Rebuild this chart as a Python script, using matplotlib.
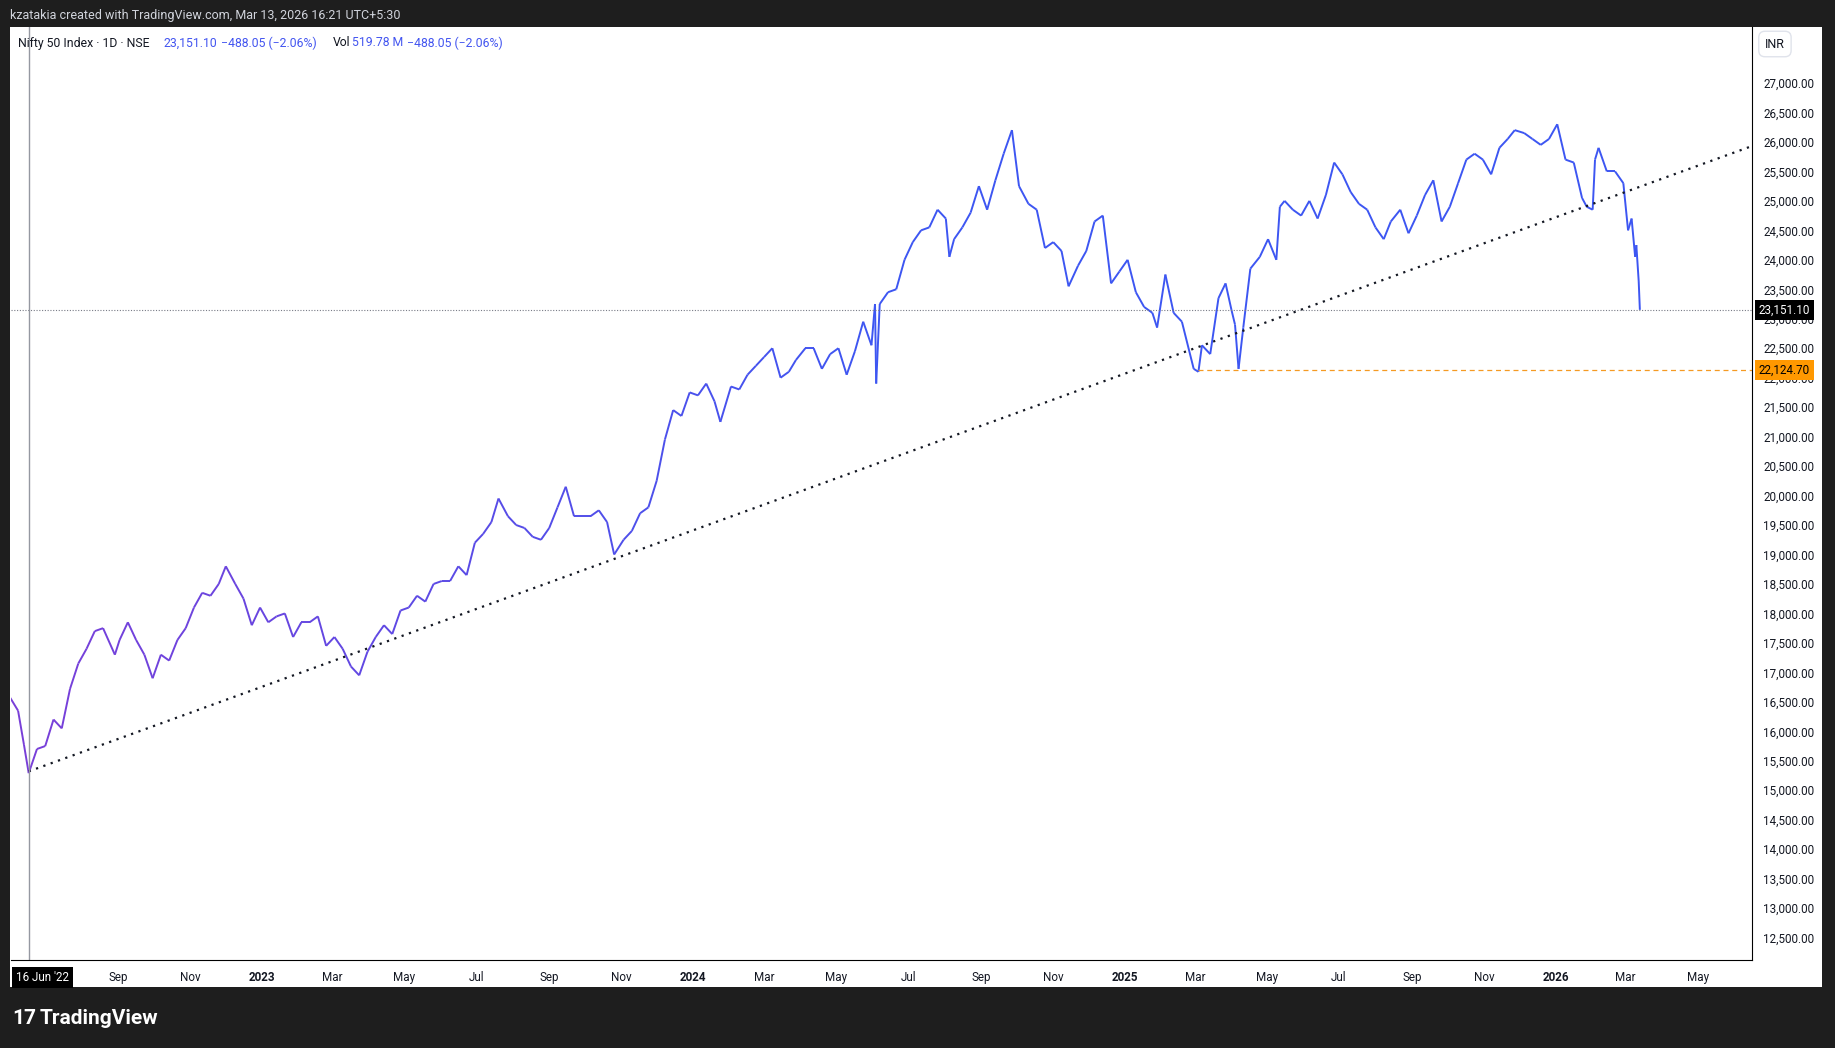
import matplotlib
matplotlib.use("Agg")
import matplotlib.pyplot as plt
import matplotlib.dates as mdates
import numpy as np
import pandas as pd
from matplotlib.collections import LineCollection
from matplotlib.colors import to_rgb
import matplotlib.transforms as mtrans

plt.rcParams['font.family'] = ['Roboto', 'DejaVu Sans']

dates = [
"2022-06-01","2022-06-08","2022-06-13","2022-06-17","2022-06-24","2022-07-01","2022-07-08","2022-07-15","2022-07-22","2022-07-29",
"2022-08-05","2022-08-12","2022-08-19","2022-08-29","2022-09-02","2022-09-09","2022-09-16","2022-09-23","2022-09-30","2022-10-07",
"2022-10-14","2022-10-21","2022-10-28","2022-11-04","2022-11-11","2022-11-18","2022-11-25","2022-12-01","2022-12-09","2022-12-16",
"2022-12-23","2022-12-30",
"2023-01-06","2023-01-13","2023-01-20","2023-01-27","2023-02-03","2023-02-10","2023-02-17","2023-02-24","2023-03-03","2023-03-10",
"2023-03-17","2023-03-24","2023-03-31","2023-04-07","2023-04-14","2023-04-21","2023-04-28","2023-05-05","2023-05-12","2023-05-19",
"2023-05-26","2023-06-02","2023-06-09","2023-06-16","2023-06-23","2023-06-30","2023-07-07","2023-07-14","2023-07-20","2023-07-28",
"2023-08-04","2023-08-11","2023-08-18","2023-08-25","2023-09-01","2023-09-08","2023-09-15","2023-09-22","2023-09-29","2023-10-06",
"2023-10-13","2023-10-20","2023-10-26","2023-11-03","2023-11-10","2023-11-17","2023-11-24","2023-12-01","2023-12-08","2023-12-15",
"2023-12-22","2023-12-29",
"2024-01-05","2024-01-12","2024-01-19","2024-01-24","2024-02-02","2024-02-09","2024-02-16","2024-02-23","2024-03-01","2024-03-08",
"2024-03-15","2024-03-22","2024-03-28","2024-04-05","2024-04-12","2024-04-19","2024-04-26","2024-05-03","2024-05-10","2024-05-17",
"2024-05-24","2024-05-31","2024-06-03","2024-06-04","2024-06-07","2024-06-14","2024-06-21","2024-06-28","2024-07-05","2024-07-12",
"2024-07-19","2024-07-26","2024-08-02","2024-08-05","2024-08-09","2024-08-16","2024-08-23","2024-08-30","2024-09-06","2024-09-13",
"2024-09-20","2024-09-27","2024-10-03","2024-10-11","2024-10-18","2024-10-25","2024-11-01","2024-11-08","2024-11-14","2024-11-22",
"2024-11-29","2024-12-06","2024-12-13","2024-12-20","2024-12-27",
"2025-01-03","2025-01-10","2025-01-17","2025-01-24","2025-01-28","2025-02-04","2025-02-11","2025-02-18","2025-02-28","2025-03-04",
"2025-03-07","2025-03-14","2025-03-21","2025-03-27","2025-04-01","2025-04-04","2025-04-07","2025-04-11","2025-04-17","2025-04-25",
"2025-05-02","2025-05-09","2025-05-12","2025-05-16","2025-05-23","2025-05-30","2025-06-06","2025-06-13","2025-06-20","2025-06-27",
"2025-07-04","2025-07-11","2025-07-18","2025-07-25","2025-08-01","2025-08-08","2025-08-14","2025-08-22","2025-08-29","2025-09-05",
"2025-09-12","2025-09-19","2025-09-26","2025-10-03","2025-10-10","2025-10-17","2025-10-24","2025-10-31","2025-11-07","2025-11-14",
"2025-11-21","2025-11-27","2025-12-05","2025-12-12","2025-12-19","2025-12-26",
"2026-01-02","2026-01-09","2026-01-16","2026-01-23","2026-01-27","2026-02-01","2026-02-03","2026-02-06","2026-02-13","2026-02-20",
"2026-02-27","2026-03-03","2026-03-06","2026-03-09","2026-03-10","2026-03-12","2026-03-13"]
closes = [
16580,16350,15770,15290,15700,15750,16200,16050,16720,17150,
17400,17700,17750,17300,17550,17850,17550,17300,16900,17300,
17200,17550,17750,18100,18350,18300,18500,18800,18500,18250,
17800,18100,
17850,17950,18000,17600,17850,17850,17950,17450,17600,17400,
17100,16950,17350,17600,17800,17650,18050,18100,18300,18200,
18500,18550,18550,18800,18650,19200,19350,19550,19950,19650,
19500,19450,19300,19250,19450,19800,20150,19650,19650,19650,
19750,19550,19000,19250,19400,19700,19800,20250,20950,21450,
21350,21750,
21700,21900,21600,21250,21850,21800,22050,22200,22350,22500,
22000,22100,22300,22500,22500,22150,22400,22500,22050,22450,
22950,22550,23250,21900,23250,23450,23500,24000,24300,24500,
24550,24850,24700,24050,24350,24550,24800,25250,24850,25350,
25800,26200,25250,24950,24850,24200,24300,24150,23550,23900,
24150,24650,24750,23600,23800,
24000,23450,23200,23100,22850,23750,23100,22950,22150,22100,
22550,22400,23350,23600,23150,22900,22150,22850,23850,24050,
24350,24000,24900,25000,24850,24750,25000,24700,25100,25650,
25450,25150,24950,24850,24550,24350,24650,24850,24450,24750,
25100,25350,24650,24900,25300,25700,25800,25700,25450,25900,
26050,26200,26150,26050,25950,26050,
26300,25700,25650,25050,24900,24850,25700,25900,25500,25500,
25300,24500,24700,24050,24250,23640,23151.10]

trend_start = ("2022-06-17", 15320)
trend_end = ("2026-06-16", 25930)
last_price = 23151.10
support_price = 22124.70
support_from = "2025-03-04"
crosshair_date = "2022-06-17"

y_ticks = np.arange(12500, 27001, 500)
x_tick_dates = ["2022-09-01","2022-11-01","2023-01-01","2023-03-01","2023-05-01","2023-07-01","2023-09-01","2023-11-01",
                "2024-01-01","2024-03-01","2024-05-01","2024-07-01","2024-09-01","2024-11-01","2025-01-01","2025-03-01",
                "2025-05-01","2025-07-01","2025-09-01","2025-11-01","2026-01-01","2026-03-01","2026-05-01"]
x_tick_labels = ["Sep","Nov","2023","Mar","May","Jul","Sep","Nov","2024","Mar","May","Jul","Sep","Nov","2025","Mar",
                 "May","Jul","Sep","Nov","2026","Mar","May"]

W, H = 1835, 1048
fig = plt.figure(figsize=(W/100, H/100), dpi=100, facecolor='#1e1e1e')
def fr(x0, y0, x1, y1):
    return [x0/W, 1-y1/H, (x1-x0)/W, (y1-y0)/H]

bg = fig.add_axes(fr(10, 27, 1822, 987))
bg.set_facecolor('white'); bg.set_xticks([]); bg.set_yticks([])
for s in bg.spines.values(): s.set_visible(False)

ax = fig.add_axes(fr(11, 27, 1752, 960))
ax.set_facecolor('white')
x = mdates.date2num(pd.to_datetime(dates))
y = np.array(closes, float)
pts = np.column_stack([x, y]).reshape(-1, 1, 2)
segs = np.concatenate([pts[:-1], pts[1:]], axis=1)
c0, c1 = np.array(to_rgb('#7a3fd8')), np.array(to_rgb('#3d56f2'))
t = np.clip((x[:-1]-x[0])/(mdates.date2num(pd.Timestamp("2024-06-01"))-x[0]), 0, 1)[:, None]
cols = c0*(1-t)+c1*t
ax.add_collection(LineCollection(segs, colors=cols, linewidth=1.4))

xmin = mdates.date2num(pd.Timestamp("2022-06-02"))
xmax = mdates.date2num(pd.Timestamp("2026-06-16"))
ax.set_xlim(xmin, xmax)
ax.set_ylim(12120, 27950)

tx0 = mdates.date2num(pd.Timestamp(trend_start[0])); tx1 = mdates.date2num(pd.Timestamp(trend_end[0]))
ax.plot([tx0, tx1], [trend_start[1], trend_end[1]], color='#131722', lw=1.6, ls=(0, (1, 2.5)))

ax.axhline(last_price, color='#787b86', lw=0.8, ls=(0, (1, 1.5)))
ax.plot([mdates.date2num(pd.Timestamp(support_from)), xmax], [support_price]*2, color='#f59a23', lw=0.9, ls=(0, (4, 3)))
ax.axvline(mdates.date2num(pd.Timestamp(crosshair_date)), color='#9598a1', lw=1)

ax.yaxis.tick_right()
ax.set_yticks(y_ticks)
ax.set_yticklabels([f"{v:,.2f}" for v in y_ticks], fontsize=8.4, color='#131722')
ax.tick_params(axis='y', length=0, pad=8)
ax.set_xticks(mdates.date2num(pd.to_datetime(x_tick_dates)))
ax.set_xticklabels(x_tick_labels, fontsize=8.4, color='#131722')
for lab in ax.get_xticklabels():
    if lab.get_text().isdigit(): lab.set_fontweight('bold')
ax.tick_params(axis='x', length=0, pad=8)
for k in ['top', 'left']: ax.spines[k].set_visible(False)
ax.spines['right'].set_color('black'); ax.spines['bottom'].set_color('black')

bt = mtrans.blended_transform_factory(ax.transAxes, ax.transData)
ax.text(1.004, last_price, f"{last_price:,.2f}", transform=bt, fontsize=8.4, color='white', va='center', ha='left',
        bbox=dict(boxstyle='square,pad=0.3', fc='black', ec='none'))
ax.text(1.004, support_price, f"{support_price:,.2f}", transform=bt, fontsize=8.4, color='black', va='center', ha='left',
        bbox=dict(boxstyle='square,pad=0.3', fc='#ff9800', ec='none'))
ax.text(0.003, -0.012, "16 Jun '22", transform=ax.transAxes, fontsize=8.4, color='white',
        va='top', ha='left', bbox=dict(boxstyle='square,pad=0.35', fc='black', ec='none'))

fig.text(10/W, 1-15/H, "kzatakia created with TradingView.com, Mar 13, 2026 16:21 UTC+5:30", color='#d1d4dc', fontsize=9, va='center')
hy = 1-43/H
fs = 8.8
fig.text(18/W, hy, "Nifty 50 Index · 1D · NSE", color='#131722', fontsize=fs, va='center')
blue = '#4355f0'
fig.text(163/W, hy, "23,151.10", color=blue, fontsize=fs, va='center')
fig.text(221/W, hy, "−488.05 (−2.06%)", color=blue, fontsize=fs, va='center')
fig.text(333/W, hy, "Vol", color='#131722', fontsize=fs, va='center')
fig.text(352/W, hy, "519.78 M", color=blue, fontsize=fs, va='center')
fig.text(407/W, hy, "−488.05 (−2.06%)", color=blue, fontsize=fs, va='center')
fig.text(1765/W, 1-44/H, "INR", color='#131722', fontsize=9, va='center',
         bbox=dict(boxstyle='round,pad=0.5', fc='white', ec='#e0e3eb'))
fig.text(12/W, 1-1018/H, "17", color='white', fontsize=15, fontweight='bold', va='center')
fig.text(40/W, 1-1018/H, "TradingView", color='white', fontsize=15, fontweight='bold', va='center')

fig.savefig("out.png", dpi=100, facecolor=fig.get_facecolor())
